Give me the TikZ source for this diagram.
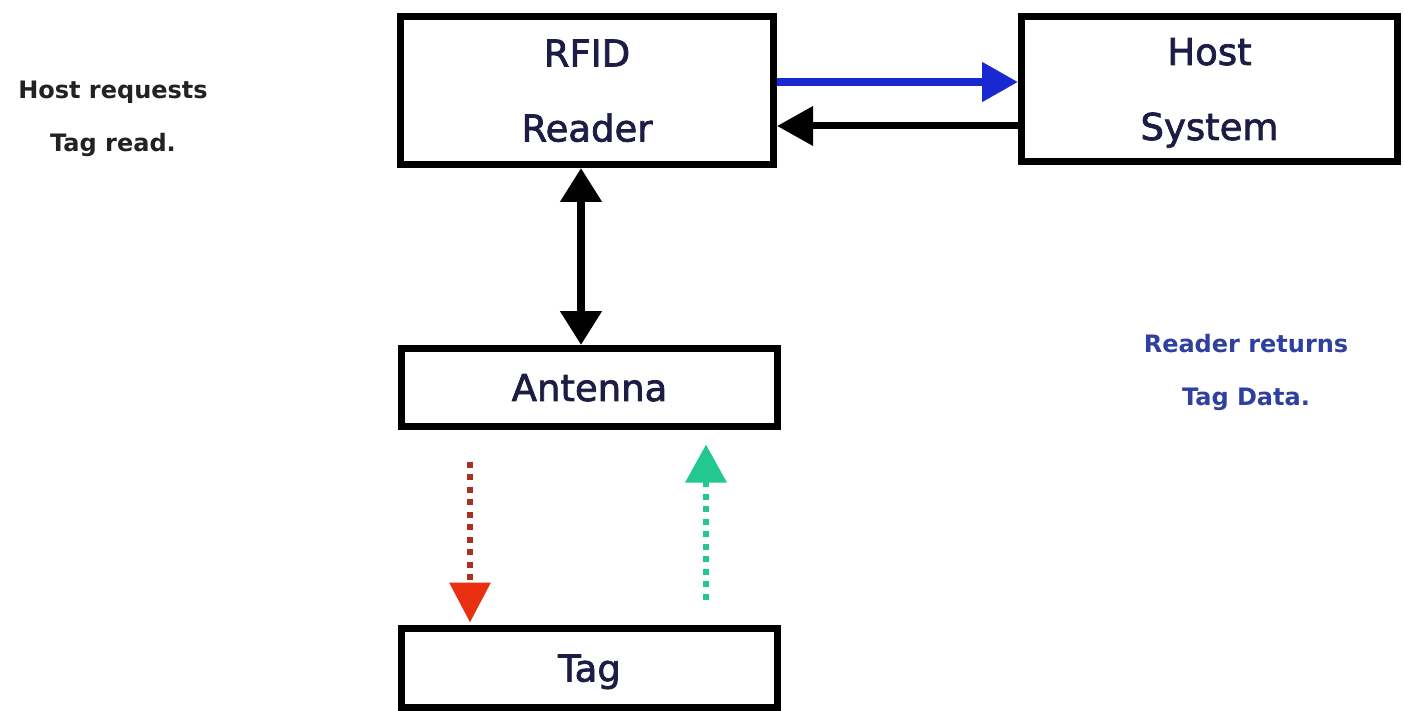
\documentclass[tikz,border=0pt]{standalone}
\usepackage{fontspec}
\setmainfont{DejaVu Sans}
\newfontface\medfont{DejaVu Sans}[FakeBold=2]
\usetikzlibrary{arrows.meta}
\definecolor{navy}{HTML}{1C1C44}
\definecolor{bluearrow}{HTML}{1A28D0}
\definecolor{bluetext}{HTML}{3040A0}
\definecolor{reddot}{HTML}{A83020}
\definecolor{redhead}{HTML}{E83010}
\definecolor{greenarrow}{HTML}{22C890}
\definecolor{sidetext}{HTML}{222222}
\begin{document}
\begin{tikzpicture}[x=1pt,y=-1pt,
  blockbox/.style={draw=black,line width=7pt,rectangle,inner sep=0pt,align=center,
    text=navy,text depth=0pt,font=\medfont\fontsize{37}{75}\selectfont},
  sidelabel/.style={inner sep=0pt,align=center,text depth=0pt,font=\bfseries\fontsize{24}{53}\selectfont},
  dottedarrow/.style={line width=6.5pt,dash pattern=on 6pt off 6.5pt}
]
\useasboundingbox[fill=white] (0,0) rectangle (1404,711);

\node[blockbox,minimum width=373pt,minimum height=148pt] (rfid) at (587,90.5) {RFID\\Reader};
\node[blockbox,minimum width=376pt,minimum height=145pt] (host) at (1209.5,89) {Host\\System};
\node[blockbox,minimum width=376pt,minimum height=78pt] (antenna) at (589.5,387.5) {Antenna};
\node[blockbox,minimum width=376pt,minimum height=79pt] (tag) at (589.5,668) {Tag};

\node[sidelabel,text=sidetext] (hostreq) at (113,116) {Host requests\\Tag read.};
\node[sidelabel,text=bluetext] (readret) at (1246,370) {Reader returns\\Tag Data.};

% reader -> host (blue)
\draw[bluearrow,line width=8pt,-{Triangle[length=36pt,width=38pt]}]
  ([yshift=8.5pt]rfid.east) coordinate (b0) -- (b0 -| host.west);
% host -> reader (black)
\draw[black,line width=7pt,-{Triangle[length=36pt,width=38pt]}]
  ([yshift=-37pt]host.west) coordinate (k0) -- (k0 -| rfid.east);
% reader <-> antenna
\draw[black,line width=8pt,{Triangle[length=34pt,width=40pt]}-{Triangle[length=34pt,width=40pt]}]
  ([xshift=-6pt]rfid.south) coordinate (v0) -- (v0 |- antenna.north);
% antenna -> tag (red dotted)
\draw[reddot,dottedarrow,-{Triangle[length=40pt,width=40pt,color=redhead]},shorten >=2.5pt]
  ([xshift=-119.5pt,yshift=-31.5pt]antenna.south) coordinate (r0) -- (r0 |- tag.north);
% tag -> antenna (green dotted)
\draw[greenarrow,dottedarrow,-{Triangle[length=38pt,width=40pt]},shorten >=14.5pt]
  ([xshift=116.5pt,yshift=25.5pt]tag.north) coordinate (g0) -- (g0 |- antenna.south);
\end{tikzpicture}
\end{document}
